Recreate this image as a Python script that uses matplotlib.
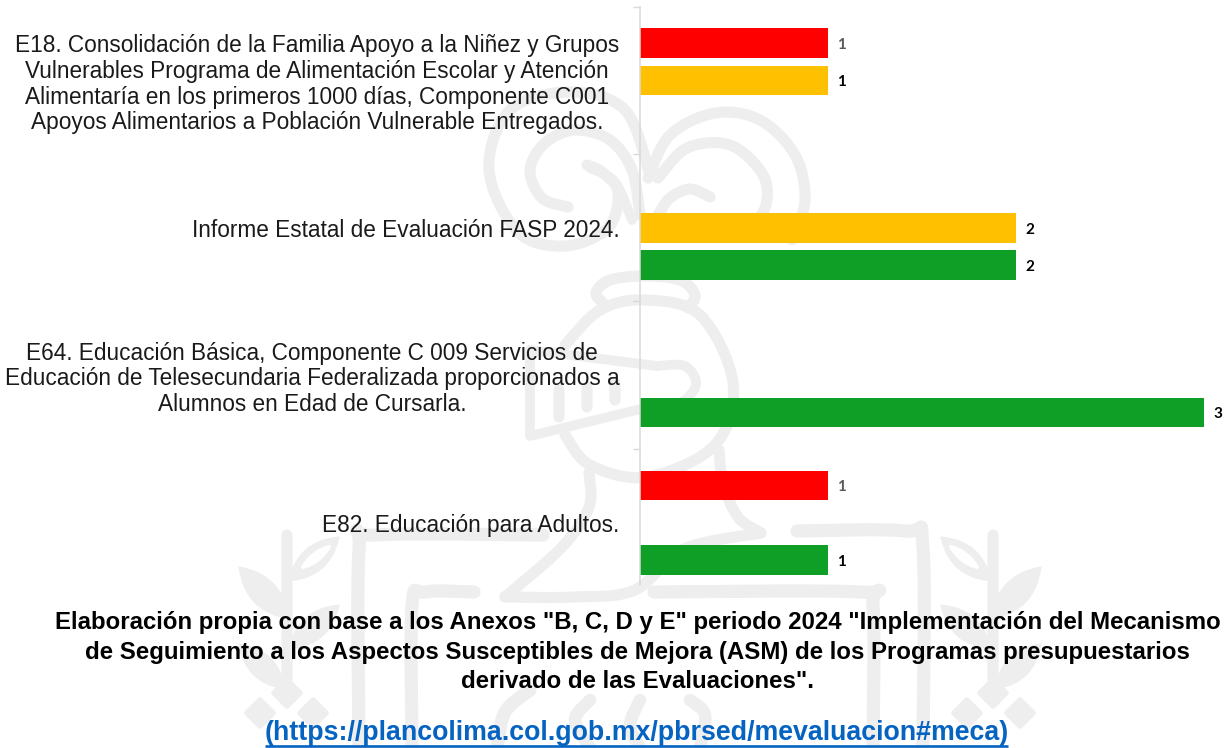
import matplotlib
matplotlib.use("Agg")
import matplotlib.pyplot as plt
from matplotlib.patches import PathPatch, Polygon
from matplotlib.path import Path

categories = [
    "E18. Consolidación de la Familia Apoyo a la Niñez y Grupos\nVulnerables Programa de Alimentación Escolar y Atención\nAlimentaría en los primeros 1000 días, Componente C001\nApoyos Alimentarios a Población Vulnerable Entregados.",
    "Informe Estatal de Evaluación FASP 2024.",
    "E64. Educación Básica, Componente C 009 Servicios de\nEducación de Telesecundaria Federalizada proporcionados a\nAlumnos en Edad de Cursarla.",
    "E82. Educación para Adultos.",
]
rojo = [1, 0, 0, 1]
amarillo = [1, 2, 0, 0]
verde = [0, 2, 3, 1]

nota = ('Elaboración propia con base a los Anexos "B, C, D y E" periodo 2024 "Implementación del Mecanismo\n'
        'de Seguimiento a los Aspectos Susceptibles de Mejora (ASM) de los Programas presupuestarios\n'
        'derivado de las Evaluaciones".')
enlace = "(https://plancolima.col.gob.mx/pbrsed/mevaluacion#meca)"

W, H = 1228, 748
GRIS = "#eeeeee"

plt.rcParams["font.family"] = ["Liberation Sans", "DejaVu Sans"]
fig = plt.figure(figsize=(W / 100, H / 100), dpi=100, facecolor="white")

# marca de agua, en pixeles de la imagen
fondo = fig.add_axes([0, 0, 1, 1], zorder=0)
fondo.set_xlim(0, W)
fondo.set_ylim(H, 0)
fondo.axis("off")


def trazo(pts, lw=8):
    # catmull-rom: la curva pasa por todos los puntos
    v = [pts[0]]
    c = [Path.MOVETO]
    for i in range(len(pts) - 1):
        p0 = pts[max(i - 1, 0)]
        p1 = pts[i]
        p2 = pts[i + 1]
        p3 = pts[min(i + 2, len(pts) - 1)]
        v.append((p1[0] + (p2[0] - p0[0]) / 6, p1[1] + (p2[1] - p0[1]) / 6))
        v.append((p2[0] - (p3[0] - p1[0]) / 6, p2[1] - (p3[1] - p1[1]) / 6))
        v.append(p2)
        c += [Path.CURVE4, Path.CURVE4, Path.CURVE4]
    fondo.add_patch(PathPatch(Path(v, c), fc="none", ec=GRIS, lw=lw, capstyle="round", joinstyle="round"))


def hoja(p, q, ancho, color=GRIS):
    mx, my = (p[0] + q[0]) / 2, (p[1] + q[1]) / 2
    dx, dy = q[0] - p[0], q[1] - p[1]
    a = (mx - dy * ancho, my + dx * ancho)
    b = (mx + dy * ancho, my - dx * ancho)
    fondo.add_patch(PathPatch(Path([p, a, q, b, p], [Path.MOVETO, Path.CURVE3, Path.CURVE3, Path.CURVE3, Path.CURVE3]),
                              fc=color, ec=color, lw=2))


# voluta izquierda
trazo([(650, 175), (625, 110), (570, 92), (510, 110), (489, 170), (518, 232), (565, 246), (608, 228), (618, 192), (602, 172), (587, 165)])
trazo([(568, 207), (542, 198), (530, 170), (545, 143), (575, 130), (610, 140), (632, 170), (640, 215)])
trazo([(590, 168), (615, 182), (632, 220)], lw=7)
# voluta derecha
trazo([(648, 178), (670, 135), (715, 113), (760, 120), (795, 155), (805, 200), (792, 240)])
trazo([(658, 178), (687, 148), (730, 145), (763, 175), (765, 208), (743, 236)])
trazo([(710, 197), (690, 189), (670, 198), (658, 215)])
# casco
trazo([(565, 345), (600, 310), (645, 300), (700, 315), (733, 383), (715, 445), (647, 477), (590, 465), (565, 435)])
trazo([(605, 305), (596, 293), (610, 280), (645, 276), (680, 280), (695, 295), (688, 308)])
trazo([(530, 350), (657, 366)], lw=7)
trazo([(530, 350), (530, 435)], lw=7)
trazo([(530, 436), (645, 408)], lw=7)
trazo([(657, 366), (685, 366), (696, 385), (678, 404), (645, 408)], lw=7)
trazo([(559, 390), (559, 417)])
trazo([(587, 387), (587, 407)])
trazo([(615, 383), (615, 400)])
# cuerpo y marcos
trazo([(589, 473), (589, 507), (562, 547), (505, 597)])
trazo([(505, 597), (575, 597), (635, 590), (684, 549), (761, 533)])
trazo([(719, 450), (723, 483), (738, 517), (761, 533)])
trazo([(543, 535), (375, 535), (359, 550), (359, 748)], lw=9.5)
trazo([(797, 531), (905, 531), (923, 548), (923, 748)], lw=9.5)
trazo([(474, 592), (425, 592), (412, 606), (412, 748)], lw=9.5)
trazo([(654, 592), (860, 592), (873, 606), (873, 748)], lw=9.5)
trazo([(497, 748), (505, 712), (530, 690)], lw=9.5)
trazo([(590, 748), (575, 720), (590, 700)], lw=9)
trazo([(640, 700), (630, 725), (640, 748)], lw=9)
trazo([(690, 700), (705, 715), (700, 748)], lw=9)
# laureles, el de la derecha es espejo del de la izquierda
for s in [1, -1]:
    def px(x):
        return x if s == 1 else 1280 - x
    trazo([(px(287), 535), (px(287), 600), (px(287), 680)], lw=8)
    hoja((px(290), 580), (px(338), 538), 0.36)
    hoja((px(302), 568), (px(330), 546), 0.22, "white")
    hoja((px(288), 618), (px(240), 568), 0.36)
    hoja((px(290), 648), (px(338), 606), 0.36)
    hoja((px(284), 688), (px(240), 645), 0.36)
    for cx, cy in [(287, 693), (260, 713), (313, 713)]:
        fondo.add_patch(Polygon([(px(cx), cy - 13), (px(cx) + 13, cy), (px(cx), cy + 13), (px(cx) - 13, cy)],
                                fc=GRIS, ec=GRIS, lw=4, joinstyle="round"))

# grafica de barras
x0 = 639.5 / W
y_sup, y_inf = 6.8, 596.2
ax = fig.add_axes([x0, 1 - y_inf / H, 1 - x0, (y_inf - y_sup) / H], zorder=1)
ax.patch.set_visible(False)
pos = range(len(categories))
ax.set_xlim(0, (W - 639.5) / 188.3)
ax.set_ylim(3.5, -0.5)

series = [(rojo, "#ff0000", -0.253, "#595959"), (amarillo, "#ffc000", 0, "black"), (verde, "#0f9f27", 0.253, "black")]
for vals, color, d, col_txt in series:
    barras = ax.barh([p + d for p in pos], vals, height=0.2, color=color)
    etiquetas = ax.bar_label(barras, labels=[str(v) if v else "" for v in vals], padding=6.5,
                             color=col_txt, fontsize=11, fontweight="bold", family=["Lato", "DejaVu Sans"])
    for t in etiquetas:
        t.xyann = (6.5, -1.3)

for lado in ["top", "right", "bottom"]:
    ax.spines[lado].set_visible(False)
ax.spines["left"].set_color("#d9d9d9")
ax.spines["left"].set_linewidth(1.1)
ax.spines["left"].set_bounds(-0.5, 3.424)
ax.set_xticks([])
ax.set_yticks(list(pos), labels=categories, fontsize=16.3, color="#1a1a1a", linespacing=1.145)
ax.tick_params(axis="y", which="major", length=0, pad=14.6)
for t in ax.get_yticklabels():
    t.set_multialignment("center")
ax.set_yticks([-0.5, 0.5, 1.5, 2.5], minor=True)
ax.tick_params(axis="y", which="minor", length=5, width=1, color="#d9d9d9")

# textos al pie
fig.text(637.5 / W, 1 - 652 / H, nota, ha="center", va="center", fontsize=17.28, fontweight="bold",
         linespacing=1.385, color="black", zorder=3)
fig.text(636.5 / W, 1 - 733 / H, enlace, ha="center", va="center", fontsize=19.3, fontweight="bold",
         color="#0563c1", zorder=3)
fondo.plot([265, 1008], [745.5, 745.5], color="#0563c1", lw=1.9, solid_capstyle="butt")

fig.savefig("out.png", dpi=100)
